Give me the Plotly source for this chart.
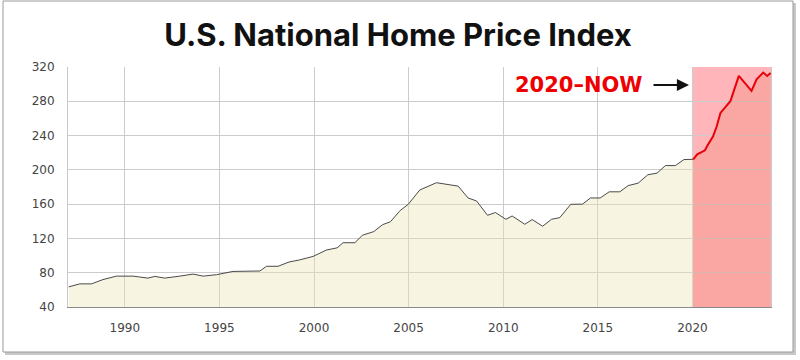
import plotly.graph_objects as go

# ---- data ----
hist_years = [1987.04, 1987.62, 1988.24, 1988.85, 1989.56, 1990.44, 1990.79, 1991.23, 1991.59,
              1992.11, 1992.91, 1993.61, 1994.14, 1994.85, 1995.72, 1997.14, 1997.49, 1998.10,
              1998.68, 1999.25, 1999.95, 2000.66, 2001.22, 2001.54, 2002.16, 2002.56, 2003.16,
              2003.62, 2004.04, 2004.55, 2004.98, 2005.59, 2006.47, 2007.62, 2008.14, 2008.59,
              2009.17, 2009.59, 2010.14, 2010.47, 2011.14, 2011.53, 2012.08, 2012.55, 2012.99,
              2013.57, 2014.19, 2014.61, 2015.12, 2015.60, 2016.16, 2016.60, 2017.13, 2017.64,
              2018.13, 2018.57, 2019.10, 2019.55, 2020.04]
hist_values = [63.5, 67.0, 67.0, 72.0, 76.0, 76.0, 75.0, 73.7, 75.7,
               73.7, 76.0, 78.4, 76.0, 77.7, 81.5, 82.0, 87.5, 87.5,
               92.5, 95.0, 99.0, 106.5, 109.0, 115.0, 115.0, 123.7, 128.0,
               136.0, 139.5, 152.5, 159.8, 176.5, 185.0, 181.0, 167.2, 163.7,
               147.0, 150.2, 142.3, 146.2, 136.5, 142.0, 134.2, 142.3, 144.3,
               159.8, 160.0, 167.2, 167.2, 174.4, 174.4, 181.6, 184.5, 194.3,
               196.2, 205.0, 205.0, 212.0, 212.3]

recent_years = [2020.04, 2020.25, 2020.43, 2020.66, 2020.80, 2021.09, 2021.27, 2021.48, 2021.75,
                2022.01, 2022.45, 2023.12, 2023.39, 2023.74, 2023.95, 2024.13]
recent_values = [212.3, 218.2, 220.2, 222.8, 228.6, 239.2, 250.0, 266.4, 273.4,
                 280.4, 309.6, 292.1, 305.7, 313.5, 309.6, 313.1]

x_tick_vals = [1990, 1995, 2000, 2005, 2010, 2015, 2020]
y_tick_vals = [40, 80, 120, 160, 200, 240, 280, 320]
x_range = [1987.0, 2024.15]
y_range = [40, 320]
highlight_start = 2020

title_text = "U.S. National Home Price Index"
label_text = "2020–NOW"

# ---- figure ----
W, H = 800, 360
ML, MR, MT, MB = 68, 29, 67, 53
PW, PH = W - ML - MR, H - MT - MB


def px_x(p):
    return (p - ML) / PW


def px_y(q):
    return (H - MB - q) / PH


fig = go.Figure()

fig.add_trace(go.Scatter(
    x=hist_years, y=hist_values, mode="lines",
    line=dict(color="#4a4a4a", width=1),
    fill="tozeroy", fillcolor="rgba(236,226,180,0.38)",
    hoverinfo="skip", showlegend=False,
))
fig.add_trace(go.Scatter(
    x=recent_years, y=recent_values, mode="lines",
    line=dict(color="#e8000b", width=2),
    fill="tozeroy", fillcolor="rgba(240,140,120,0.35)",
    hoverinfo="skip", showlegend=False,
))

shapes = [
    # card shadow
    dict(type="rect", xref="paper", yref="paper", layer="below",
         x0=px_x(5), x1=px_x(796), y0=px_y(355), y1=px_y(3),
         line=dict(width=0), fillcolor="#c8c8c8"),
    # card
    dict(type="rect", xref="paper", yref="paper", layer="below",
         x0=px_x(3), x1=px_x(793), y0=px_y(352), y1=px_y(1),
         line=dict(color="#9a9a9a", width=1), fillcolor="white"),
    # highlighted period
    dict(type="rect", xref="x", yref="paper", layer="below",
         x0=highlight_start, x1=x_range[1], y0=0, y1=1,
         line=dict(width=0), fillcolor="#ffb5ba"),
]

fig.update_layout(
    width=W, height=H,
    margin=dict(l=ML, r=MR, t=MT, b=MB, pad=0),
    paper_bgcolor="white", plot_bgcolor="rgba(0,0,0,0)",
    shapes=shapes,
    showlegend=False,
    title=dict(text="<b>" + title_text + "</b>", x=0.4975, xref="container", xanchor="center",
               y=1 - 35 / H, yref="container", yanchor="middle",
               font=dict(family="Inter, Lato, sans-serif", size=31, color="#111111")),
    annotations=[
        dict(text="<b>" + label_text + "</b>", xref="paper", yref="paper",
             x=px_x(579), y=px_y(85), xanchor="center", yanchor="middle",
             showarrow=False,
             font=dict(family="DejaVu Sans, sans-serif", size=21, color="#ee0000")),
        dict(text="", xref="paper", yref="paper",
             x=px_x(689), y=px_y(85), ax=-37, ay=0,
             axref="pixel", ayref="pixel",
             showarrow=True, arrowhead=2, arrowsize=1.1, arrowwidth=2.2,
             arrowcolor="#111111"),
    ],
)

fig.update_xaxes(
    range=x_range, tickvals=x_tick_vals, ticktext=[str(v) for v in x_tick_vals],
    showgrid=True, gridcolor="#cccccc", gridwidth=1,
    showline=True, linecolor="#8a8a8a", linewidth=1,
    ticks="", ticklabelstandoff=10, zeroline=False,
    tickfont=dict(family="DejaVu Sans, sans-serif", size=12, color="#444444"),
)
fig.update_yaxes(
    range=y_range, tickvals=y_tick_vals, ticktext=[str(v) for v in y_tick_vals],
    showgrid=True, gridcolor="#cccccc", gridwidth=1,
    showline=True, linecolor="#c8c8c8", linewidth=1, mirror=True,
    ticks="", ticklabelstandoff=10, zeroline=False,
    tickfont=dict(family="DejaVu Sans, sans-serif", size=12, color="#444444"),
)

fig.write_html("out.html",
               config={"displayModeBar": False},
               post_script="document.body.style.margin='0';document.body.style.overflow='hidden';")
